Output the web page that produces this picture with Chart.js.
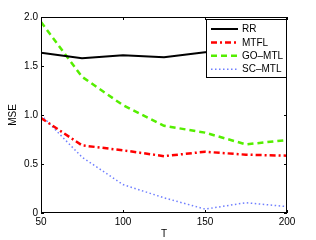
<!DOCTYPE html>
<html>
<head>
<meta charset="UTF-8">
<script src="https://cdn.jsdelivr.net/npm/chart.js"></script>
<style>
  body { margin: 0; background: #fff; }
  #wrap { width: 316px; height: 240px; }
</style>
</head>
<body>
<div id="wrap"><canvas id="c"></canvas></div>
<script>
const T = [50, 75, 100, 125, 150, 175, 200];
const rr = [1.635, 1.58, 1.61, 1.59, 1.64, 1.66, 1.67];
const mtfl = [0.97, 0.69, 0.64, 0.58, 0.625, 0.595, 0.585];
const goMtl = [1.95, 1.39, 1.10, 0.89, 0.82, 0.70, 0.745];
const scMtl = [1.0, 0.57, 0.29, 0.155, 0.04, 0.105, 0.065];
const xTicks = [50, 100, 150, 200];
const yTicks = [0, 0.5, 1, 1.5, 2];

const font = { family: 'Liberation Sans, Arial, sans-serif', size: 10 };
const pts = arr => T.map((t, i) => ({ x: t, y: arr[i] }));

// matlab style box, inward ticks and a legend inside the axes
const matlabBox = {
  id: 'matlabBox',
  afterDraw(chart) {
    const ctx = chart.ctx, a = chart.chartArea;
    const xs = chart.scales.x, ys = chart.scales.y;
    ctx.save();
    ctx.strokeStyle = '#000';
    ctx.lineWidth = 1;
    ctx.strokeRect(a.left + 0.5, a.top + 0.5, a.right - a.left - 1, a.bottom - a.top - 1);
    ctx.beginPath();
    xTicks.forEach(v => {
      const x = Math.round(xs.getPixelForValue(v)) + 0.5;
      ctx.moveTo(x, a.bottom); ctx.lineTo(x, a.bottom - 3);
      ctx.moveTo(x, a.top); ctx.lineTo(x, a.top + 3);
    });
    yTicks.forEach(v => {
      const y = Math.round(ys.getPixelForValue(v)) + 0.5;
      ctx.moveTo(a.left, y); ctx.lineTo(a.left + 3, y);
      ctx.moveTo(a.right, y); ctx.lineTo(a.right - 3, y);
    });
    ctx.stroke();

    // legend
    const bx = 206, by = 19, bw = 80, bh = 58;
    ctx.fillStyle = '#fff';
    ctx.fillRect(bx, by, bw, bh);
    ctx.strokeRect(bx + 0.5, by + 0.5, bw, bh);
    ctx.font = font.size + 'px ' + font.family;
    ctx.textBaseline = 'middle';
    chart.data.datasets.forEach((ds, i) => {
      const y = by + 10 + i * 13.4;
      ctx.beginPath();
      ctx.strokeStyle = ds.borderColor;
      ctx.lineWidth = ds.borderWidth;
      ctx.setLineDash(ds.borderDash || []);
      ctx.moveTo(bx + 5, y); ctx.lineTo(bx + 32, y);
      ctx.stroke();
      ctx.setLineDash([]);
      ctx.fillStyle = '#000';
      ctx.fillText(ds.label, bx + 36, y + 0.5);
    });
    ctx.restore();
  }
};

new Chart(document.getElementById('c'), {
  type: 'line',
  data: {
    datasets: [
      { label: 'RR', data: pts(rr), borderColor: '#000', borderWidth: 2 },
      { label: 'MTFL', data: pts(mtfl), borderColor: '#ff0000', borderWidth: 2.5, borderDash: [6, 3, 2, 3] },
      { label: 'GO\u2013MTL', data: pts(goMtl), borderColor: '#55ee00', borderWidth: 2.5, borderDash: [6, 4] },
      { label: 'SC\u2013MTL', data: pts(scMtl), borderColor: '#6f7fff', borderWidth: 1.5, borderDash: [1.5, 2.5] }
    ]
  },
  options: {
    responsive: true,
    maintainAspectRatio: false,
    animation: false,
    layout: { padding: { left: 0, right: 29, top: 17, bottom: 0 } },
    elements: { point: { radius: 0 }, line: { tension: 0 } },
    plugins: { legend: { display: false }, tooltip: { enabled: false } },
    scales: {
      x: {
        type: 'linear', min: 50, max: 200,
        afterBuildTicks: s => { s.ticks = xTicks.map(v => ({ value: v })); },
        afterFit: s => { s.height = 27; },
        grid: { display: false, drawTicks: false },
        border: { display: false },
        ticks: { color: '#000', font, padding: 3, maxRotation: 0 },
        title: { display: true, text: 'T', color: '#000', font, padding: { top: 0, bottom: 0 } }
      },
      y: {
        min: 0, max: 2,
        afterBuildTicks: s => { s.ticks = yTicks.map(v => ({ value: v })); },
        afterFit: s => { s.width = 41; },
        grid: { display: false, drawTicks: false },
        border: { display: false },
        ticks: { color: '#000', font, padding: 3 },
        title: { display: true, text: 'MSE', color: '#000', font, padding: { top: 7, bottom: 0 } }
      }
    }
  },
  plugins: [matlabBox]
});
</script>
</body>
</html>
